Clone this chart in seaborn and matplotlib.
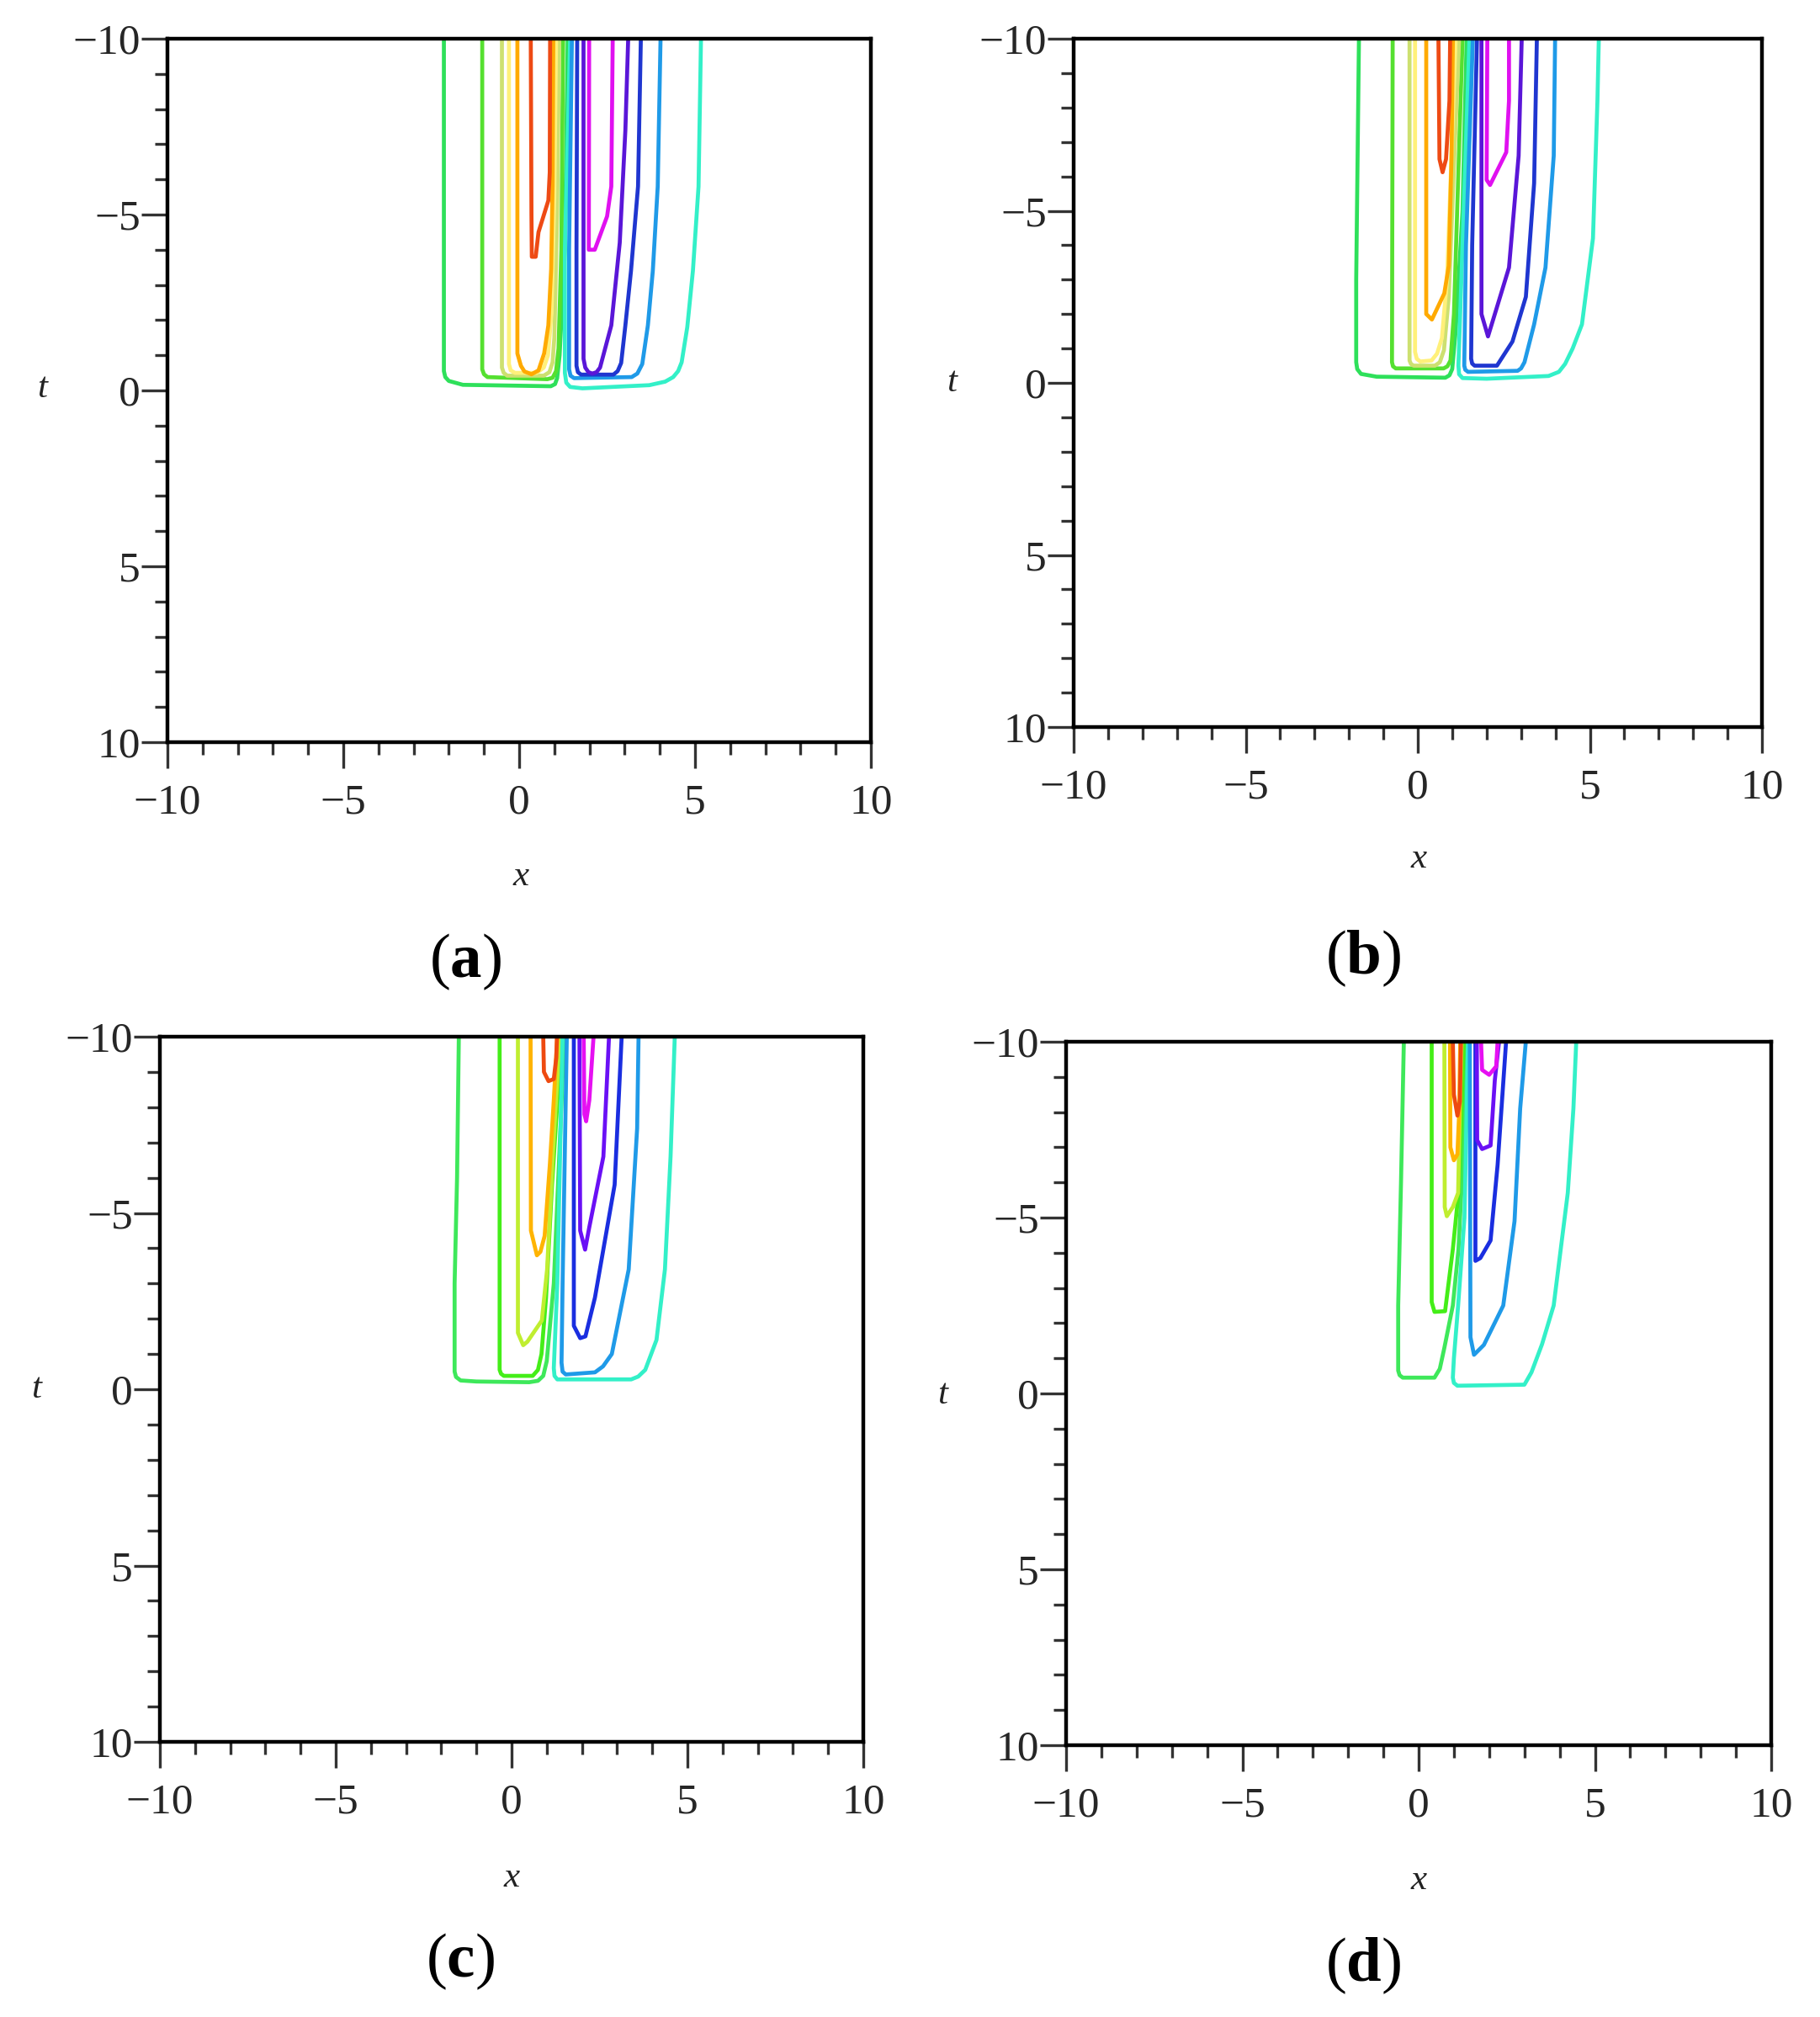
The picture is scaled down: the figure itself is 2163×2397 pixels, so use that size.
import matplotlib
matplotlib.use("Agg")
import matplotlib.pyplot as plt
import seaborn as sns
import pandas as pd
from matplotlib.ticker import FixedLocator, MultipleLocator

# ---------------- data ----------------
tick_vals = [-10, -5, 0, 5, 10]
tick_labels = ["\u221210", "\u22125", "0", "5", "10"]
panel_letters = ["a", "b", "c", "d"]

# contour colours (outer-left group, then right group)
a_colors = ["#2ee05a", "#55e030", "#cde070", "#fff07a", "#ffaa00", "#ee4a14",
            "#33f0c8", "#1f9ae8", "#1f36d0", "#5a16d8", "#e010f0"]
a_x = [
    [-2.14, -2.14, -2.1, -2.0, -1.6, 0.9, 1.02, 1.08, 1.15, 1.3, 1.38],
    [-1.05, -1.05, -1.0, -0.9, 0.8, 0.95, 1.05, 1.12, 1.2, 1.25],
    [-0.49, -0.49, -0.44, -0.34, 0.7, 0.86, 0.95, 1.0, 1.08, 1.14],
    [-0.29, -0.29, -0.24, -0.12, 0.5, 0.7, 0.82, 0.92, 1.0, 1.05],
    [-0.05, -0.05, 0.05, 0.15, 0.35, 0.55, 0.71, 0.83, 0.91, 0.95, 0.97],
    [0.33, 0.35, 0.36, 0.47, 0.55, 0.83, 0.87, 0.88],
    [1.45, 1.3, 1.3, 1.34, 1.45, 1.8, 3.7, 4.15, 4.38, 4.52, 4.62, 4.78, 4.94, 5.1, 5.17],
    [1.5, 1.42, 1.42, 1.46, 1.56, 3.2, 3.36, 3.5, 3.66, 3.8, 3.94, 4.02],
    [1.65, 1.63, 1.63, 1.67, 1.76, 2.68, 2.8, 2.9, 3.02, 3.18, 3.38, 3.46],
    [1.83, 1.83, 1.88, 1.97, 2.08, 2.2, 2.3, 2.62, 2.86, 3.02, 3.1],
    [1.99, 1.98, 2.15, 2.5, 2.62, 2.66],
]
a_t = [
    [-10, -0.55, -0.38, -0.27, -0.16, -0.12, -0.18, -0.35, -1.0, -4.0, -10],
    [-10, -0.6, -0.46, -0.38, -0.32, -0.36, -0.55, -1.2, -4.0, -10],
    [-10, -0.65, -0.5, -0.42, -0.42, -0.52, -0.8, -1.5, -5.0, -10],
    [-10, -0.75, -0.57, -0.5, -0.5, -0.65, -1.0, -2.2, -5.5, -10],
    [-10, -1.05, -0.7, -0.54, -0.46, -0.57, -1.05, -1.85, -3.45, -5.84, -10],
    [-10, -5.0, -3.8, -3.8, -4.5, -5.4, -6.2, -10],
    [-10, -4.0, -0.5, -0.22, -0.1, -0.06, -0.15, -0.25, -0.38, -0.55, -0.8, -1.8, -3.4, -5.8, -10],
    [-10, -4.0, -0.6, -0.42, -0.35, -0.38, -0.48, -0.75, -1.85, -3.4, -5.8, -10],
    [-10, -4.0, -0.7, -0.52, -0.45, -0.45, -0.55, -0.78, -1.85, -3.4, -5.8, -10],
    [-10, -0.9, -0.65, -0.52, -0.48, -0.52, -0.65, -1.85, -4.2, -7.4, -10],
    [-10, -4.0, -4.0, -4.95, -5.8, -10],
]

b_colors = a_colors
b_x = [
    [-1.71, -1.79, -1.79, -1.76, -1.65, -1.2, 0.8, 0.92, 1.0, 1.1, 1.3, 1.42],
    [-0.73, -0.75, -0.72, -0.64, 0.75, 0.86, 0.95, 1.05, 1.3],
    [-0.24, -0.24, -0.2, -0.12, 0.5, 0.64, 0.76, 0.9, 1.2],
    [-0.08, -0.08, -0.03, 0.07, 0.4, 0.56, 0.7, 0.85, 1.1],
    [0.245, 0.245, 0.41, 0.77, 0.9, 0.98, 1.02],
    [0.6, 0.63, 0.72, 0.82, 0.92, 0.94],
    [1.5, 1.3, 1.18, 1.2, 1.3, 2.0, 3.8, 4.1, 4.28, 4.5, 4.77, 5.09, 5.22, 5.26],
    [1.6, 1.4, 1.35, 1.38, 1.46, 2.9, 3.0, 3.1, 3.38, 3.71, 3.95, 3.99],
    [1.72, 1.58, 1.55, 1.58, 1.65, 2.3, 2.75, 3.14, 3.38, 3.46],
    [1.85, 1.85, 2.04, 2.3, 2.65, 2.93, 3.02],
    [2.02, 2.0, 2.1, 2.57, 2.65, 2.65],
]
b_t = [
    [-10, -3.0, -0.6, -0.4, -0.26, -0.18, -0.15, -0.22, -0.4, -1.5, -5.0, -10],
    [-10, -0.6, -0.48, -0.42, -0.42, -0.48, -0.65, -2.0, -10],
    [-10, -0.65, -0.55, -0.5, -0.5, -0.6, -0.95, -2.5, -10],
    [-10, -0.9, -0.7, -0.62, -0.65, -0.85, -1.3, -3.0, -10],
    [-10, -2.0, -1.84, -2.6, -3.4, -6.6, -10],
    [-10, -6.5, -6.12, -6.5, -8.2, -10],
    [-10, -4.0, -0.5, -0.25, -0.14, -0.12, -0.2, -0.32, -0.55, -1.0, -1.7, -4.2, -8.2, -10],
    [-10, -4.0, -0.5, -0.38, -0.32, -0.35, -0.42, -0.6, -1.7, -3.35, -6.6, -10],
    [-10, -4.0, -0.7, -0.56, -0.5, -0.5, -1.2, -2.5, -5.8, -10],
    [-10, -2.0, -1.35, -2.2, -3.35, -6.6, -10],
    [-10, -5.9, -5.75, -6.7, -8.2, -10],
]

c_colors = ["#3ee85a", "#44ee18", "#c0ee30", "#ffb400", "#ee4a10",
            "#33f0c8", "#1f9ae8", "#1a2ee0", "#6a10f5", "#e610f2"]
c_x = [
    [-1.5, -1.55, -1.62, -1.62, -1.58, -1.45, -1.0, 0.5, 0.75, 0.9, 1.0, 1.2, 1.5],
    [-0.34, -0.34, -0.3, -0.22, 0.6, 0.75, 0.85, 0.98, 1.15, 1.42],
    [0.18, 0.18, 0.33, 0.45, 0.86, 1.01, 1.17, 1.37],
    [0.54, 0.55, 0.72, 0.82, 0.94, 1.09, 1.2, 1.3],
    [0.9, 0.92, 1.05, 1.2, 1.27, 1.29],
    [1.45, 1.3, 1.2, 1.22, 1.3, 3.4, 3.6, 3.8, 4.12, 4.36, 4.52, 4.64],
    [1.57, 1.45, 1.42, 1.45, 1.54, 2.37, 2.6, 2.85, 3.33, 3.57, 3.61],
    [1.77, 1.77, 1.95, 2.1, 2.37, 2.93, 3.13],
    [1.93, 1.95, 2.09, 2.21, 2.61, 2.77],
    [2.05, 2.07, 2.12, 2.21, 2.33],
]
c_t = [
    [-10, -6.0, -3.0, -0.5, -0.35, -0.25, -0.22, -0.2, -0.24, -0.38, -0.8, -3.0, -10],
    [-10, -0.55, -0.44, -0.38, -0.38, -0.55, -1.0, -2.6, -5.8, -10],
    [-10, -1.6, -1.25, -1.35, -1.95, -3.4, -6.6, -10],
    [-10, -4.5, -3.8, -3.9, -4.35, -6.4, -8.2, -10],
    [-10, -9.0, -8.74, -8.8, -9.4, -10],
    [-10, -3.0, -0.6, -0.38, -0.28, -0.28, -0.36, -0.55, -1.4, -3.4, -6.6, -10],
    [-10, -3.0, -0.75, -0.5, -0.42, -0.48, -0.65, -1.0, -3.4, -7.4, -10],
    [-10, -1.8, -1.45, -1.5, -2.6, -5.8, -10],
    [-10, -4.5, -3.96, -4.6, -6.6, -10],
    [-10, -7.8, -7.6, -8.2, -10],
]

d_colors = c_colors
d_x = [
    [-0.42, -0.5, -0.58, -0.58, -0.54, -0.45, 0.45, 0.6, 0.73, 0.97, 1.13, 1.25, 1.35],
    [0.37, 0.37, 0.45, 0.75, 0.97, 1.13, 1.28],
    [0.73, 0.74, 0.8, 0.97, 1.12, 1.17, 1.22],
    [0.89, 0.9, 1.0, 1.1, 1.15, 1.18],
    [0.97, 1.0, 1.1, 1.17, 1.2],
    [1.4, 1.3, 1.12, 1.0, 0.97, 1.0, 1.1, 3.0, 3.2, 3.5, 3.83, 4.23, 4.39, 4.47],
    [1.45, 1.47, 1.57, 1.85, 2.4, 2.72, 2.88, 3.04],
    [1.61, 1.61, 1.75, 2.04, 2.24, 2.48],
    [1.65, 1.66, 1.8, 2.04, 2.16, 2.28],
    [1.77, 1.8, 2.0, 2.2, 2.24],
]
d_t = [
    [-10, -6.0, -2.5, -0.65, -0.52, -0.45, -0.45, -0.7, -1.3, -2.5, -4.1, -6.5, -10],
    [-10, -2.6, -2.32, -2.34, -4.1, -5.7, -10],
    [-10, -5.3, -5.04, -5.3, -5.7, -8.1, -10],
    [-10, -7.0, -6.63, -6.8, -8.0, -10],
    [-10, -8.5, -7.9, -8.3, -10],
    [-10, -5.0, -2.5, -1.0, -0.45, -0.3, -0.22, -0.25, -0.6, -1.4, -2.5, -5.7, -8.1, -10],
    [-10, -1.6, -1.1, -1.38, -2.5, -4.9, -8.1, -10],
    [-10, -3.77, -3.85, -4.35, -6.5, -10],
    [-10, -7.2, -6.95, -7.05, -8.9, -10],
    [-10, -9.2, -9.06, -9.3, -10],
]

# ---------------- styling ----------------
sns.set_theme(style="white")
plt.rcParams['font.family'] = ['Liberation Serif', 'DejaVu Serif']
plt.rcParams['mathtext.fontset'] = 'custom'
plt.rcParams['mathtext.rm'] = 'Liberation Serif'
plt.rcParams['mathtext.bf'] = 'Liberation Serif:bold'
plt.rcParams['mathtext.it'] = 'Liberation Serif:italic'

W, H = 2163, 2397
fig = plt.figure(figsize=(W / 100, H / 100), dpi=100)
fig.patch.set_facecolor("white")

# axes boxes in pixels: left, top, right, bottom
boxes = [(199, 46, 1035, 882), (1276, 46, 2094, 864),
         (190, 1232, 1026, 2070), (1267, 1238, 2105, 2074)]
xlab_pos = [(619, 1042), (1686, 1021), (608, 2232), (1686, 2235)]
tlab_pos = [(50, 462), (1131, 455), (43, 1651), (1120, 1658)]
letter_pos = [(553, 1143), (1620, 1139), (547, 2331), (1620, 2336)]

panels = [(a_colors, a_x, a_t), (b_colors, b_x, b_t),
          (c_colors, c_x, c_t), (d_colors, d_x, d_t)]

for k, ((cols, xs, ts), (l, t, r, b)) in enumerate(zip(panels, boxes)):
    ax = fig.add_axes([l / W, 1 - b / H, (r - l) / W, (b - t) / H])
    rows = []
    for i, (xx, tt) in enumerate(zip(xs, ts)):
        for j, (xv, tv) in enumerate(zip(xx, tt)):
            rows.append((f"c{i}", j, xv, tv))
    df = pd.DataFrame(rows, columns=["curve", "order", "x", "t"])
    pal = {f"c{i}": c for i, c in enumerate(cols)}
    sns.lineplot(data=df, x="x", y="t", hue="curve", units="curve",
                 estimator=None, sort=False, palette=pal, legend=False,
                 linewidth=3.4, ax=ax)
    ax.set_xlim(-10, 10)
    ax.set_ylim(10, -10)
    ax.set_xlabel("")
    ax.set_ylabel("")
    for s in ax.spines.values():
        s.set_visible(True)
        s.set_color("black")
        s.set_linewidth(3.2)
    ax.xaxis.set_major_locator(FixedLocator(tick_vals))
    ax.yaxis.set_major_locator(FixedLocator(tick_vals))
    ax.xaxis.set_minor_locator(MultipleLocator(1))
    ax.yaxis.set_minor_locator(MultipleLocator(1))
    ax.set_xticklabels(tick_labels)
    ax.set_yticklabels(tick_labels)
    ax.tick_params(which="both", direction="out", bottom=True, left=True,
                   top=False, right=False, color="#333333", width=2.4)
    ax.tick_params(which="major", length=22)
    ax.tick_params(which="minor", length=11)
    ax.tick_params(axis="x", which="major", labelsize=37, pad=13)
    ax.tick_params(axis="y", which="major", labelsize=37, pad=1)
    ax.grid(False)

    fig.text(xlab_pos[k][0] / W, 1 - xlab_pos[k][1] / H, "x",
             fontsize=31, style="italic", ha="center", va="center", color="#222")
    fig.text(tlab_pos[k][0] / W, 1 - tlab_pos[k][1] / H, "t",
             fontsize=31, style="italic", ha="center", va="center", color="#222")
    fig.text(letter_pos[k][0] / W, 1 - letter_pos[k][1] / H,
             "($\\mathbf{" + panel_letters[k] + "}$)",
             fontsize=54, ha="center", va="center", color="black")

fig.savefig("out.png", dpi=100, facecolor="white")
